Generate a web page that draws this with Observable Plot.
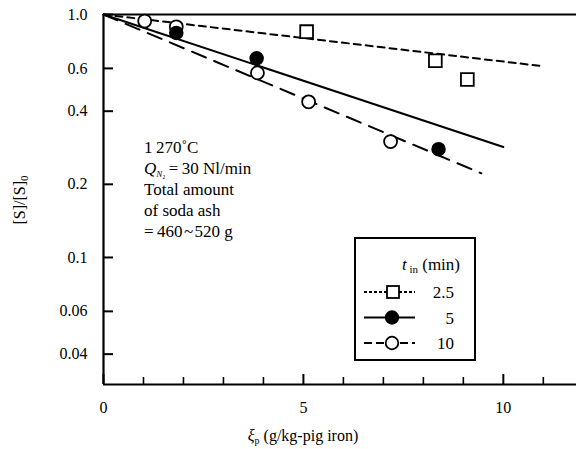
<!DOCTYPE html>
<html><head><meta charset="utf-8">
<script src="https://cdn.jsdelivr.net/npm/d3@7"></script>
<script src="https://cdn.jsdelivr.net/npm/@observablehq/plot@0.6"></script>
<style>
body{margin:0;background:#fff;}
#wrap{position:relative;width:577px;height:449px;font-family:"Liberation Serif","Times New Roman",Times,Tinos,"Noto Serif","DejaVu Serif",FreeSerif,"Nimbus Roman",serif;color:#000;}
.ov{position:absolute;white-space:nowrap;font-size:17px;line-height:20px;}
svg text{font-family:"Liberation Serif","Times New Roman",Times,Tinos,"Noto Serif","DejaVu Serif",FreeSerif,"Nimbus Roman",serif;}
</style></head>
<body><div id="wrap"></div>
<script>
// Data
const series = ["2.5", "5", "10"];
const pts25 = [{x: 5.08, y: 0.85}, {x: 8.3, y: 0.645}, {x: 9.1, y: 0.54}];
const pts5 = [{x: 1.82, y: 0.84}, {x: 3.83, y: 0.66}, {x: 8.38, y: 0.279}];
const pts10 = [{x: 1.03, y: 0.94}, {x: 1.82, y: 0.89}, {x: 3.85, y: 0.575}, {x: 5.13, y: 0.437}, {x: 7.18, y: 0.30}];
const fit25 = [{x: 0, y: 1.0}, {x: 10.9, y: 0.615}];
const fit5 = [{x: 0, y: 1.0}, {x: 10.0, y: 0.285}];
const fit10 = [{x: 0, y: 1.0}, {x: 9.45, y: 0.222}];
const yTicks = [1.0, 0.6, 0.4, 0.2, 0.1, 0.06, 0.04];
const yTickLabels = ["1.0", "0.6", "0.4", "0.2", "0.1", "0.06", "0.04"];
const xMajor = [0, 5, 10];
const xMajorLabels = ["0", "5", "10"];
const xMinor = [1, 2, 3, 4, 6, 7, 8, 9, 11];
const xDomain = [0, 11.83];
const yDomain = [0.03, 1.0];

const W = 577, H = 449, mL = 103, mR = 1, mT = 14, mB = 65;
const fw = W - mL - mR, fh = H - mT - mB;
const yT = yTicks.map((v, i) => ({v, label: yTickLabels[i]}));
const xT = xMajor.map((v, i) => ({v, label: xMajorLabels[i]}));
const serif = "Liberation Serif, Times New Roman, Times, Tinos, Noto Serif, DejaVu Serif, serif";

const chart = Plot.plot({
  width: W, height: H,
  marginLeft: mL, marginRight: mR, marginTop: mT, marginBottom: mB,
  style: {fontFamily: serif, fontSize: "16px", color: "#000", background: "#fff"},
  x: {domain: xDomain, axis: null},
  y: {type: "log", domain: yDomain, axis: null},
  marks: [
    // tick labels
    Plot.text(yT, {x: xDomain[0], y: "v", text: "label", textAnchor: "end", dx: -16, fontSize: 16, fontFamily: serif}),
    Plot.text(xT, {x: "v", y: yDomain[0], text: "label", dy: 23, fontSize: 16, fontFamily: serif}),
    // inward ticks
    Plot.tickY(yT, {y: "v", insetRight: fw - 10, strokeWidth: 2}),
    Plot.tickX(xT, {x: "v", insetTop: fh - 10, strokeWidth: 2}),
    Plot.tickX(xMinor, {x: d => d, insetTop: fh - 7, strokeWidth: 1.6}),
    // frame (left, bottom, top)
    Plot.ruleX([xDomain[0]], {strokeWidth: 2.2}),
    Plot.ruleY([yDomain[0]], {strokeWidth: 2.2}),
    Plot.ruleY([yDomain[1]], {strokeWidth: 2.2}),
    // fit lines
    Plot.line(fit25, {x: "x", y: "y", stroke: "#000", strokeWidth: 2, strokeDasharray: "7,5"}),
    Plot.line(fit5, {x: "x", y: "y", stroke: "#000", strokeWidth: 2}),
    Plot.line(fit10, {x: "x", y: "y", stroke: "#000", strokeWidth: 2, strokeDasharray: "15,9"}),
    // points
    Plot.dot(pts10, {x: "x", y: "y", r: 6.5, fill: "#fff", stroke: "#000", strokeWidth: 1.8}),
    Plot.dot(pts5, {x: "x", y: "y", r: 6.5, fill: "#000", stroke: "#000"}),
    Plot.dot(pts25, {x: "x", y: "y", r: 7.2, symbol: "square", fill: "#fff", stroke: "#000", strokeWidth: 1.8})
  ]
});
const wrap = document.getElementById("wrap");
wrap.appendChild(chart);

function ov(html, left, top, extra) {
  const d = document.createElement("div");
  d.className = "ov";
  d.innerHTML = html;
  d.style.left = left + "px"; d.style.top = top + "px";
  if (extra) Object.assign(d.style, extra);
  wrap.appendChild(d);
  return d;
}
// annotation
ov("1&#8201;270&#730;C", 144, 138);
ov("<i>Q</i><span style='font-size:9px;line-height:0;vertical-align:-3px'><i>N</i>₂</span>&#8201;=&#8201;30 Nl/min", 144, 159);
ov("Total amount", 144, 180);
ov("of soda ash", 144, 201);
ov("=&#8201;460&#8202;~&#8202;520 g", 144, 222);
// axis titles
ov("<i>ξ</i><span style='font-size:10px;line-height:0;vertical-align:-3px'>p</span> (g/kg-pig iron)", 0, 426, {width: "606px", textAlign: "center", left: "0px", fontSize: "16px"});
ov("[S]/[S]<span style='font-size:11px;line-height:0;vertical-align:-3px'>0</span>", -20, 190, {transform: "rotate(-90deg)", width: "80px", textAlign: "center", fontSize: "16px"});

// legend box
const lg = document.createElement("div");
lg.style.cssText = "position:absolute;left:354px;top:237px;width:118px;height:120px;border:2px solid #000;background:#fff;";
wrap.appendChild(lg);
const lsvg = d3.create("svg").attr("width", 118).attr("height", 120).style("position", "absolute").style("left", "0").style("top", "0");
lsvg.append("text").attr("x", 104).attr("y", 31).attr("text-anchor", "end").attr("font-size", 17)
  .html("<tspan font-style='italic'>t</tspan><tspan font-size='11' dy='3'> in</tspan><tspan dy='-3'> (min)</tspan>");
const rows = [
  {label: series[0], dash: "3,2", sym: "square", fill: "#fff"},
  {label: series[1], dash: null, sym: "circle", fill: "#000"},
  {label: series[2], dash: "8,4", sym: "circle", fill: "#fff"}
];
rows.forEach((r, i) => {
  const y = 53 + i * 25.5;
  lsvg.append("line").attr("x1", 8).attr("x2", 59).attr("y1", y).attr("y2", y).attr("stroke", "#000").attr("stroke-width", 1.8)
    .attr("stroke-dasharray", r.dash);
  if (r.sym === "square") lsvg.append("rect").attr("x", 31).attr("y", y - 6).attr("width", 12).attr("height", 12).attr("fill", "#fff").attr("stroke", "#000").attr("stroke-width", 1.8);
  else lsvg.append("circle").attr("cx", 36).attr("cy", y).attr("r", 6.3).attr("fill", r.fill).attr("stroke", "#000").attr("stroke-width", 1.8);
  lsvg.append("text").attr("x", 98).attr("y", y + 6).attr("text-anchor", "end").attr("font-size", 17).text(r.label);
});
lg.appendChild(lsvg.node());
</script></body></html>
